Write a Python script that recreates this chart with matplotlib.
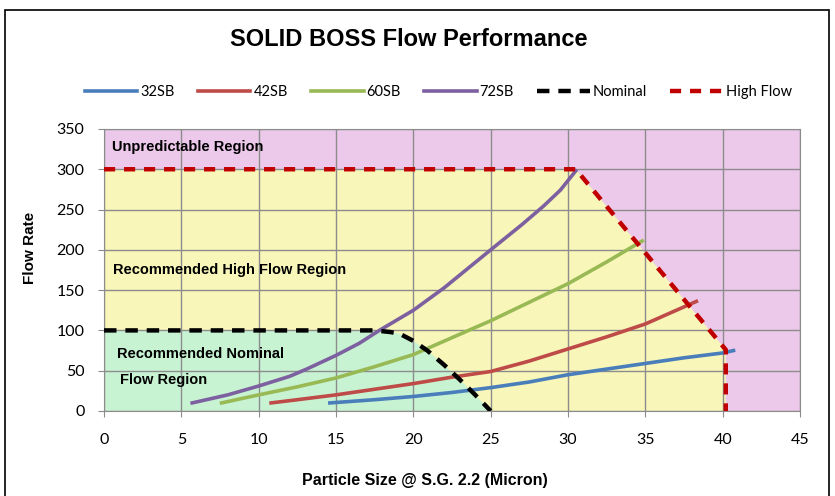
import matplotlib
matplotlib.use("Agg")
import matplotlib.pyplot as plt
from matplotlib import font_manager
from matplotlib.patches import Rectangle, Polygon

# series (particle size in micron, flow rate)
x_32 = [14.6, 17.5, 20, 22.5, 25, 27.5, 30, 32.5, 35, 37.5, 40, 40.7]
y_32 = [10, 14, 18, 23, 29, 36, 45, 52, 59, 66, 72, 75]
x_42 = [10.8, 12.5, 15, 17.5, 20, 22.5, 25, 27.5, 30, 32.5, 35, 38.3]
y_42 = [10, 14, 20, 27, 34, 42, 49, 62, 77, 92, 108, 136]
x_60 = [7.6, 10, 12.5, 15, 17.5, 20, 22.5, 25, 27.5, 30, 32.5, 34.8]
y_60 = [10, 20, 30, 41, 55, 70, 91, 112, 135, 158, 185, 211]
x_72 = [5.7, 8, 10, 12, 13.1, 15, 16.5, 17.8, 20, 22, 25, 27, 28.4, 29.5, 30.5]
y_72 = [10, 20, 31, 43, 52, 69, 84, 100, 125, 153, 200, 231, 254, 274, 298]
x_nom = [0, 17.5, 18.5, 19.1, 20, 20.9, 22, 23, 24, 25]
y_nom = [100, 100, 98, 96, 87, 75, 57, 39, 20, 0]
x_high = [0, 30.5, 40.2, 40.2]
y_high = [300, 300, 76, 0]

names = ["32SB", "42SB", "60SB", "72SB", "Nominal", "High Flow"]
colors = ["#4A7EBB", "#BE4B48", "#98B954", "#7D60A0", "black", "#C00000"]


def pick(fams):
    have = {f.name for f in font_manager.fontManager.ttflist}
    for f in fams:
        if f in have:
            return f
    return "DejaVu Sans"


narrow = pick(["Liberation Sans Narrow", "Liberation Sans"])
arial = pick(["Liberation Sans"])
calibri = pick(["Lato", "Open Sans"])

fig = plt.figure(figsize=(8.35, 4.96), dpi=100)
ax = fig.add_axes([0.1246, 0.1714, 0.8335, 0.5686])

xmin, xmax, ymin, ymax = 0, 45, 0, 350
ax.set_xlim(xmin, xmax)
ax.set_ylim(ymin, ymax)

# region fills
ax.add_patch(Rectangle((xmin, ymin), xmax - xmin, ymax - ymin,
                       facecolor="#ECC8EA", edgecolor="none", zorder=0))
ax.add_patch(Polygon(list(zip(x_high, y_high)) + [(0, 0)], closed=True,
                     facecolor="#F8F6B8", edgecolor="none", zorder=0.5))
ax.add_patch(Polygon(list(zip(x_nom, y_nom)) + [(0, 0)], closed=True,
                     facecolor="#C8F3D2", edgecolor="none", zorder=0.6))

ax.set_xticks(range(0, 46, 5))
ax.set_yticks(range(0, 351, 50))
ax.grid(True, color="#8C8C8C", linewidth=1, zorder=1)
ax.set_axisbelow(False)
for s in ax.spines.values():
    s.set_color("#8C8C8C")
ax.tick_params(colors="#8C8C8C", labelcolor="black", length=4, labelsize=11.5)
ax.tick_params(axis="x", pad=12)
ax.tick_params(axis="y", pad=10)
for lab in ax.get_xticklabels() + ax.get_yticklabels():
    lab.set_fontfamily(calibri)

lw = 2.6
ax.plot(x_32, y_32, color=colors[0], lw=lw, label=names[0], zorder=3)
ax.plot(x_42, y_42, color=colors[1], lw=lw, label=names[1], zorder=3)
ax.plot(x_60, y_60, color=colors[2], lw=lw, label=names[2], zorder=3)
ax.plot(x_72, y_72, color=colors[3], lw=lw, label=names[3], zorder=3)
ax.plot(x_nom, y_nom, color=colors[4], lw=3.2, dashes=(2.8, 2.0),
        label=names[4], zorder=4)
ax.plot(x_high, y_high, color=colors[5], lw=3.2, dashes=(2.5, 2.0),
        label=names[5], zorder=4)

# region labels
kw = dict(fontsize=10.5, fontweight="bold", fontfamily=arial, va="center", zorder=5)
ax.text(0.5, 327, "Unpredictable Region", **kw)
ax.text(0.55, 175, "Recommended High Flow Region", **kw)
ax.text(0.85, 71, "Recommended Nominal", **kw)
ax.text(1.0, 38, "Flow Region", **kw)

fig.text(0.036, 0.5, "Flow Rate", rotation=90, ha="center", va="center",
         fontsize=11, fontweight="bold", fontfamily=arial)
fig.text(0.509, 0.032, "Particle Size @ S.G. 2.2 (Micron)", ha="center",
         va="center", fontsize=11.5, fontweight="bold", fontfamily=narrow)

fig.text(0.49, 0.92, "SOLID BOSS Flow Performance", ha="center", va="center",
         fontsize=17, fontweight="bold", fontfamily=arial)

leg = fig.legend(loc="center", bbox_to_anchor=(0.525, 0.815), ncol=6,
                 frameon=False, handlelength=3.6, columnspacing=1.6,
                 handletextpad=0.2, prop={"family": calibri, "size": 10.5})

# outer chart frame
fig.add_artist(Rectangle((0.006, -0.02), 0.987, 1.0, transform=fig.transFigure,
                         fill=False, edgecolor="black", linewidth=1.2))

fig.savefig("out.png", dpi=100)
